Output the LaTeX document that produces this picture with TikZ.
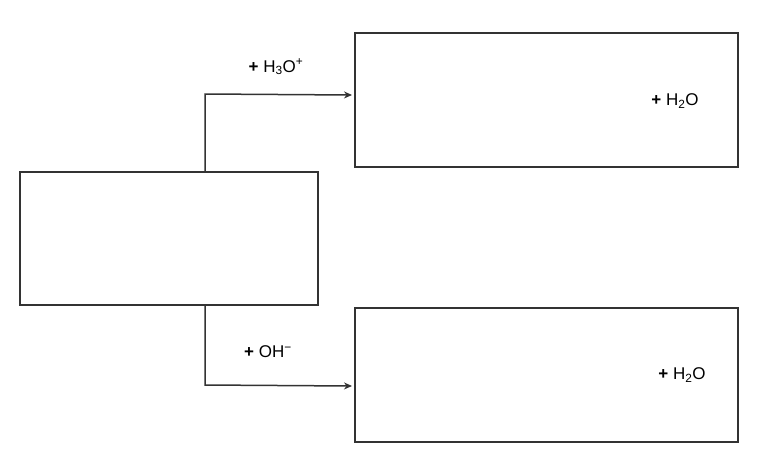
\documentclass[tikz,border=0pt]{standalone}
\usepackage{fontspec}
\setmainfont{Liberation Sans}
\usetikzlibrary{arrows.meta}
\begin{document}
\begin{tikzpicture}[x=1pt,y=-1pt,
  boxst/.style={draw=black!80, line width=1.3pt, fill=white},
  conn/.style={draw=black!80, line width=1.5pt, -{Stealth[length=8pt,width=7pt]}},
  lbl/.style={font=\fontsize{17}{20}\selectfont, inner sep=0pt}]
\useasboundingbox (0,0) rectangle (768,464);
\draw[boxst] (20,172) rectangle (318,305);
\node[minimum width=298pt, minimum height=133pt, inner sep=0pt] (L) at (169,238.5) {};
\draw[boxst] (355,33) rectangle (738,167);
\node[minimum width=383pt, minimum height=134pt, inner sep=0pt] (TR) at (546.5,100) {};
\draw[boxst] (355,308) rectangle (738,442);
\node[minimum width=383pt, minimum height=134pt, inner sep=0pt] (BR) at (546.5,375) {};
\coordinate (ta) at (352,95);
\coordinate (ba) at (352,386);
\draw[conn] (L.north -| 205,0) -- (205,94) -- (ta);
\draw[conn] (L.south -| 205,0) -- (205,385) -- (ba);
\node[lbl] (l1) at (276,67) {\textbf{+} H\textsubscript{3}O\textsuperscript{+}};
\node[lbl] (l2) at (675,101) {\textbf{+} H\textsubscript{2}O};
\node[lbl] (l3) at (268,352) {\textbf{+} OH\textsuperscript{−}};
\node[lbl] (l4) at (682,375) {\textbf{+} H\textsubscript{2}O};
\end{tikzpicture}
\end{document}
